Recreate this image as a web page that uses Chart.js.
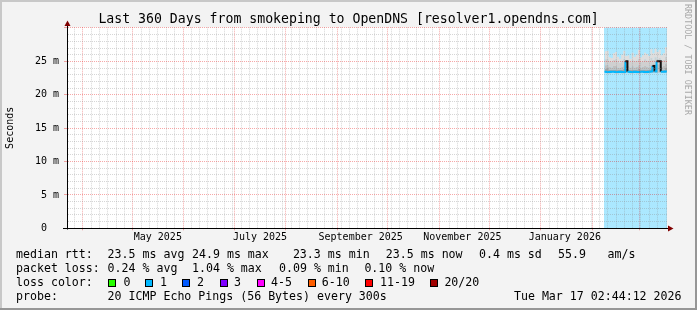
<!DOCTYPE html>
<html><head><meta charset="utf-8">
<script src="https://cdn.jsdelivr.net/npm/chart.js@4.4.1/dist/chart.umd.min.js"></script>
<style>
html,body{margin:0;padding:0;background:#f3f3f3;}
#wrap{position:relative;width:697px;height:310px;overflow:hidden;background:#f3f3f3;}
#c{position:absolute;left:0;top:0;}
.t{position:absolute;font-family:'DejaVu Sans Mono',monospace;font-size:11.6px;line-height:14px;color:#000;white-space:pre;}
.box{position:absolute;width:8px;height:8px;box-sizing:border-box;border:1px solid #000;}
#wm{position:absolute;left:683px;top:4px;writing-mode:vertical-rl;font-family:'DejaVu Sans Mono',monospace;font-size:8.4px;line-height:9px;color:#a8a8a8;white-space:pre;}
.fr{position:absolute;}
</style></head>
<body>
<div id="wrap">
<canvas id="c" width="697" height="310"></canvas>
<div id="legend"></div>
<div id="wm">RRDTOOL / TOBI OETIKER</div>
<div class="fr" style="left:0;top:0;width:697px;height:2px;background:#c8c8c8"></div>
<div class="fr" style="left:0;top:0;width:2px;height:310px;background:#c8c8c8"></div>
<div class="fr" style="left:695px;top:0;width:2px;height:310px;background:#969696"></div>
<div class="fr" style="left:0;top:308px;width:697px;height:2px;background:#969696"></div>
</div>
<script>
const MONO = "'DejaVu Sans Mono', monospace";
const TITLE = 'Last 360 Days from smokeping to OpenDNS [resolver1.opendns.com]';
const Y_MAX = 30.1;
const X_MIN = 0, X_MAX = 360;            // days since Mar 22 2025 02:44:12

// x axis: month starts (major grid), month label positions and labels
const monthStartDays = [9.4, 39.4, 70.0, 100.4, 131.0, 162.0, 192.4, 223.6, 253.6, 284.2, 315.4, 343.4];
const monthLabelDays = [54.5, 115.8, 176.2, 237.2, 298.7];
const monthLabels = ['May 2025', 'July 2025', 'September 2025', 'November 2025', 'January 2026'];
const minorStepDays = 5, minorFirstDay = 4.4;

// y axis ticks (ms)
const yTickValues = [0,1,2,3,4,5,6,7,8,9,10,11,12,13,14,15,16,17,18,19,20,21,22,23,24,25,26,27,28,29,30];

// data (days since start, ms)
const dataStartDay = 322.2, dataEndDay = 360;
const days   = [322.5,323.75,325,326.25,327.5,328.75,330,331.25,332.5,333.75,335,336.25,337.5,338.75,340,341.25,342.5,343.75,345,346.25,347.5,348.75,350,351.25,352.5,353.75,355,356.25,357.5,358.75,360];
const pingMin = [23.25,23.20,23.20,23.25,23.25,23.20,23.20,23.25,23.20,23.20,23.25,23.25,23.20,23.20,23.25,23.20,23.20,23.25,23.25,23.20,23.20,23.25,23.30,23.30,23.30,23.30,23.30,23.25,23.25,23.30,23.30];
const median  = [23.45,23.40,23.40,23.45,23.45,23.40,23.40,23.45,23.40,23.40,25.00,23.45,23.40,23.40,23.45,23.40,23.40,23.45,23.45,23.40,23.40,23.45,23.50,24.30,23.50,25.00,25.00,23.45,23.45,23.50,23.50];
const ping60  = [23.9,24.0,23.8,23.7,23.8,23.8,23.7,23.7,23.8,23.9,23.8,23.8,23.7,23.8,23.7,23.8,23.9,23.7,23.8,23.8,23.8,23.7,23.9,24.0,24.0,23.9,23.9,23.8,23.8,24.0,23.9];
const ping75  = [24.4,24.5,24.2,24.1,24.3,24.3,24.1,24.0,24.2,24.4,24.2,24.3,24.1,24.3,24.1,24.2,24.4,24.1,24.2,24.3,24.2,24.1,24.5,24.6,24.6,24.5,24.5,24.2,24.3,24.6,24.4];
const ping90  = [25.3,25.4,25.0,24.9,25.2,25.3,25.0,24.8,25.1,25.4,25.0,25.1,24.9,25.2,25.0,25.1,25.4,24.9,25.0,25.3,25.1,25.0,25.5,25.2,25.6,25.3,25.5,25.1,25.2,25.7,25.4];
const pingMax = [26.5,26.6,25.6,25.5,26.2,26.4,25.7,25.4,26.0,26.6,25.8,25.9,25.4,26.3,25.7,26.0,26.7,25.6,25.9,26.3,26.1,25.8,26.8,26.2,26.9,26.4,26.7,25.9,26.2,27.1,26.5];

// legend text
const lossColors = ['#26ff00','#00b8ff','#0059ff','#7e00ff','#ff00ff','#ff5e00','#ff0000','#a10000'];
const lossLabels = ['0','1','2','3','4-5','6-10','11-19','20/20'];
const lossBoxX   = [108, 145.3, 182.2, 219.6, 256.9, 307.6, 365.3, 430.2];
const lossTextX  = [123.6, 160, 197, 234, 271, 321.8, 380, 444.4];
const rttItems   = [[16,'median rtt:'],[107.6,'23.5 ms avg'],[192,'24.9 ms max'],[292.9,'23.3 ms min'],[385.8,'23.5 ms now'],[479,'0.4 ms sd'],[558,'55.9'],[607.6,'am/s']];
const lossItems  = [[16,'packet loss:'],[107.6,'0.24 % avg'],[192,'1.04 % max'],[279,'0.09 % min'],[364.4,'0.10 % now']];
const probeItems = [[16,'probe:'],[107.6,'20 ICMP Echo Pings (56 Bytes) every 300s']];
const stamp = 'Tue Mar 17 02:44:12 2026';

const GRID = 'rgba(140,140,140,0.36)';
const MGRID = 'rgba(230,0,0,0.34)';
const LOSS_BG = 'rgba(0,184,255,0.33)';
const CYAN = '#00b8ff';

// legend HTML
(function(){
  const L = document.getElementById('legend');
  function txt(x, yc, s){ const d=document.createElement('div'); d.className='t'; d.style.left=x+'px'; d.style.top=(yc-7)+'px'; d.textContent=s; L.appendChild(d); return d; }
  rttItems.forEach(([x,s])=>txt(x,254.3,s));
  lossItems.forEach(([x,s])=>txt(x,268.3,s));
  txt(16,282,'loss color:');
  lossLabels.forEach((s,i)=>{ const b=document.createElement('div'); b.className='box'; b.style.left=lossBoxX[i]+'px'; b.style.top='279px'; b.style.background=lossColors[i]; L.appendChild(b); txt(lossTextX[i],282,s); });
  probeItems.forEach(([x,s])=>txt(x,296,s));
  const st = txt(0,296,stamp); st.style.left=''; st.style.right='15.5px';
})();

// x ticks
const xTicks = [];
for (let d = minorFirstDay; d <= X_MAX; d += minorStepDays) {
  if (monthStartDays.some(m => Math.abs(m - d) < 1)) continue;
  xTicks.push({value: d, kind: 'minor'});
}
monthStartDays.forEach(d => xTicks.push({value: d, kind: 'major'}));
monthLabelDays.forEach((d, i) => xTicks.push({value: d, kind: 'label', lbl: monthLabels[i]}));
xTicks.sort((a, b) => a.value - b.value);

const pts = arr => days.map((d, i) => ({x: d, y: arr[i]}));
const band = (label, arr, color, order) => ({label, data: pts(arr), fill: '-1', backgroundColor: color, borderColor: 'transparent', borderWidth: 0, pointRadius: 0, stepped: true, order});

const rrdPlugin = {
  id: 'rrd',
  beforeDraw(chart) {
    const {ctx, chartArea: a} = chart;
    ctx.save(); ctx.fillStyle = '#fff';
    ctx.fillRect(a.left, a.top, a.right - a.left, a.bottom - a.top);
    ctx.restore();
  },
  afterDraw(chart) {
    const {ctx, chartArea: a} = chart;
    const xa = Math.floor(a.left) + 0.5, yb = Math.floor(a.bottom) + 0.5;
    ctx.save();
    ctx.strokeStyle = '#000'; ctx.lineWidth = 1;
    ctx.beginPath();
    ctx.moveTo(xa, yb + 1); ctx.lineTo(xa, 23);
    ctx.moveTo(a.left - 4, yb); ctx.lineTo(670, yb);
    ctx.stroke();
    ctx.fillStyle = '#800000';
    ctx.beginPath(); ctx.moveTo(xa - 3, 26); ctx.lineTo(xa + 3, 26); ctx.lineTo(xa, 20.5); ctx.closePath(); ctx.fill();
    ctx.beginPath(); ctx.moveTo(668, yb - 3); ctx.lineTo(668, yb + 3); ctx.lineTo(673.5, yb); ctx.closePath(); ctx.fill();
    ctx.restore();
  }
};

new Chart(document.getElementById('c'), {
  type: 'line',
  data: {
    datasets: [
      {label: 'loss', data: [{x: dataStartDay, y: Y_MAX}, {x: dataEndDay, y: Y_MAX}], fill: 'origin', backgroundColor: LOSS_BG, borderColor: 'transparent', borderWidth: 0, pointRadius: 0, stepped: true, order: 9},
      {label: 'min', data: pts(pingMin), fill: false, borderColor: 'transparent', borderWidth: 0, pointRadius: 0, stepped: true, order: 8},
      band('low smoke', median, '#c4c4c4', 7),
      band('smoke 60', ping60, '#a6a6a6', 6),
      band('smoke 75', ping75, '#c0c0c0', 5),
      band('smoke 90', ping90, '#d0d0d0', 4),
      band('smoke max', pingMax, '#dedede', 3),
      {label: 'median rtt', data: pts(median), fill: false, borderColor: CYAN, borderWidth: 2, pointRadius: 0, stepped: true, order: 0,
       segment: {borderColor: c => (c.p0.parsed.y > 24) ? '#111' : undefined}}
    ]
  },
  options: {
    responsive: false, animation: false, devicePixelRatio: 1,
    layout: {padding: 0},
    plugins: {
      legend: {display: false}, tooltip: {enabled: false},
      title: {display: true, text: TITLE, color: '#000', font: {family: MONO, size: 13.2, weight: 'normal', lineHeight: 1.16}, padding: {top: 12, bottom: 0}}
    },
    scales: {
      x: {
        type: 'linear', min: X_MIN, max: X_MAX, position: 'bottom',
        afterBuildTicks: s => { s.ticks = xTicks.map(t => Object.assign({}, t)); },
        afterFit: s => { s.height = 310 - 228.3; },
        ticks: {autoSkip: false, maxRotation: 0, minRotation: 0, padding: 1.5, color: '#000', font: {family: MONO, size: 10}, z: 2,
                callback: (v, i, t) => (t[i] && t[i].lbl) || ''},
        grid: {z: 1, drawTicks: true, tickLength: 2, lineWidth: 1,
               color: c => !c.tick ? GRID : c.tick.kind === 'major' ? MGRID : c.tick.kind === 'minor' ? GRID : 'transparent',
               tickColor: c => (c.tick && c.tick.kind === 'major') ? MGRID : 'transparent'},
        border: {display: true, color: '#000', width: 1, dash: [1, 1], z: 2}
      },
      y: {
        type: 'linear', min: 0, max: Y_MAX, position: 'left',
        afterBuildTicks: s => { s.ticks = yTickValues.map(v => ({value: v})); },
        afterFit: s => { s.width = 67; },
        ticks: {autoSkip: false, padding: 5, color: '#000', font: {family: MONO, size: 10}, z: 2,
                callback: v => (v % 5 === 0 && v < 30) ? (v === 0 ? '0  ' : v + ' m') : ''},
        grid: {z: 1, drawTicks: true, tickLength: 3, lineWidth: 1,
               color: c => (c.tick && c.tick.value % 5 === 0) ? MGRID : GRID,
               tickColor: c => (c.tick && c.tick.value % 5 === 0 && c.tick.value > 0) ? MGRID : 'transparent'},
        border: {display: true, color: '#000', width: 1, dash: [1, 1], z: 2},
        title: {display: true, text: 'Seconds', color: '#000', font: {family: MONO, size: 10}, padding: {top: 4, bottom: 0}}
      },
      yR: {
        type: 'linear', position: 'right', display: true, min: 0, max: Y_MAX,
        afterFit: s => { s.width = 30; },
        ticks: {display: false}, grid: {display: false}, border: {display: false}
      }
    }
  },
  plugins: [rrdPlugin]
});
</script>
</body></html>
